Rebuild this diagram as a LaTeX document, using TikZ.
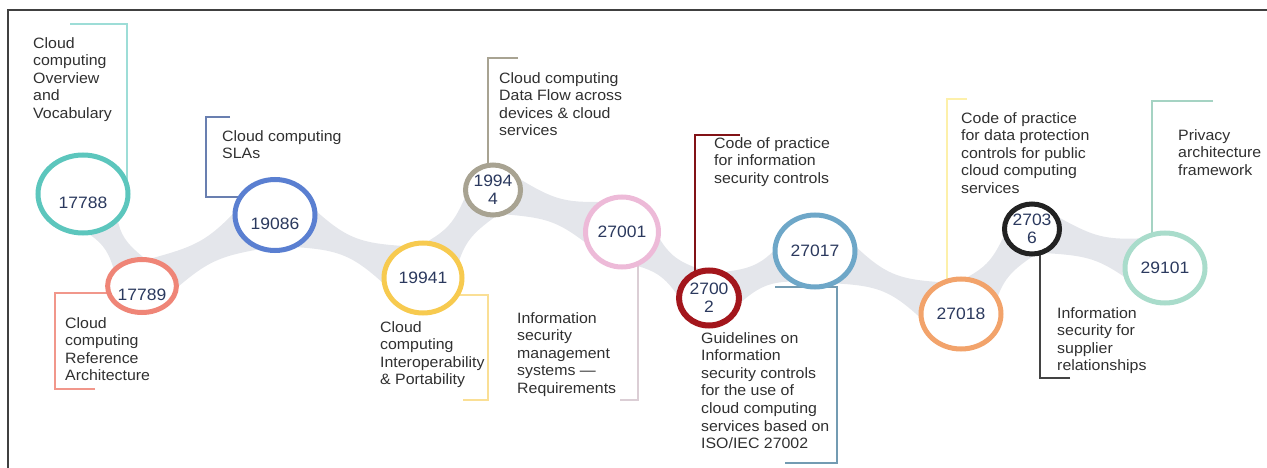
\documentclass[tikz,border=0pt]{standalone}
\usepackage{fontspec}
\setsansfont{Liberation Sans}[FakeStretch=1.06]
\usetikzlibrary{shapes.geometric,calc,backgrounds}

\definecolor{numblue}{HTML}{2B395E}
\definecolor{txtgrey}{HTML}{303030}
\definecolor{bandgrey}{HTML}{E4E6EB}
\definecolor{ringteal}{HTML}{5CC6BD}
\definecolor{ringsalmon}{HTML}{EF8577}
\definecolor{ringblue}{HTML}{5A7FD1}
\definecolor{ringyellow}{HTML}{F7CA4F}
\definecolor{ringtaupe}{HTML}{A8A392}
\definecolor{ringpink}{HTML}{EDBAD8}
\definecolor{ringred}{HTML}{A3161C}
\definecolor{ringsteel}{HTML}{6EA7C8}
\definecolor{ringorange}{HTML}{F2A36B}
\definecolor{ringblack}{HTML}{222222}
\definecolor{ringmint}{HTML}{A9DCCB}

\tikzset{std node/.style={ellipse,draw,line width=5pt,fill=white,inner sep=0pt,align=center,
    text=numblue,font=\sffamily\fontsize{16.5}{18}\selectfont},
  sunk/.style={text height=30pt},
  note/.style={anchor=north west,inner sep=0pt,align=left,text=txtgrey,
    font=\sffamily\fontsize{15}{17.6}\selectfont},
  tick/.style={line width=1.4pt},
  band/.style={fill=bandgrey}}

\begin{document}
\begin{tikzpicture}[x=1pt,y=-1pt]
\useasboundingbox (0,0) rectangle (1267,468);
\draw[line width=2pt,black!75] (8,468) -- (8,10) -- (1267,10);

% the rings
\node[std node,sunk,draw=ringteal,minimum width=90pt,minimum height=78pt] (c17788) at (83,194) {17788};
\node[std node,sunk,draw=ringsalmon,minimum width=60pt,minimum height=53pt] (c17789) at (142,286) {17789};
\node[std node,sunk,draw=ringblue,minimum width=80pt,minimum height=71pt] (c19086) at (275,215) {19086};
\node[std node,draw=ringyellow,minimum width=78pt,minimum height=70pt] (c19941) at (423,278) {19941};
\node[std node,draw=ringtaupe,minimum width=54pt,minimum height=50pt] (c19944) at (493,190) {1994\\4};
\node[std node,draw=ringpink,minimum width=73pt,minimum height=70pt] (c27001) at (622,232) {27001};
\node[std node,draw=ringred,line width=6pt,minimum width=60pt,minimum height=55pt] (c27002) at (709,298) {2700\\2};
\node[std node,draw=ringsteel,minimum width=80pt,minimum height=72pt] (c27017) at (815,251) {27017};
\node[std node,draw=ringorange,minimum width=80pt,minimum height=70pt] (c27018) at (961,314) {27018};
\node[std node,draw=ringblack,minimum width=54pt,minimum height=50pt] (c27036) at (1032,229) {2703\\6};
\node[std node,draw=ringmint,minimum width=80pt,minimum height=70pt] (c29101) at (1165,268) {29101};

% descriptions
\node[note] (d17788) at (33,37) {Cloud\\computing\\Overview\\and\\Vocabulary};
\node[note] (d19086) at (222,130) {Cloud computing\\SLAs};
\node[note] (d17789) at (65,317) {Cloud\\computing\\Reference\\Architecture};
\node[note] (d19944) at (499,72) {Cloud computing\\Data Flow across\\devices \& cloud\\services};
\node[note] (d19941) at (380,321) {Cloud\\computing\\Interoperability\\\& Portability};
\node[note] (d27001) at (517,312) {Information\\security\\management\\systems —\\Requirements};
\node[note] (d27002) at (714,137) {Code of practice\\for information\\security controls};
\node[note] (d27017) at (701,332) {Guidelines on\\Information\\security controls\\for the use of\\cloud computing\\services based on\\ISO/IEC 27002};
\node[note] (d27018) at (961,112) {Code of practice\\for data protection\\controls for public\\cloud computing\\services};
\node[note] (d27036) at (1057,307) {Information\\security for\\supplier\\relationships};
\node[note] (d29101) at (1178,129) {Privacy\\architecture\\framework};

\begin{pgfonlayer}{background}
  % grey ribbon between neighbouring rings
  \foreach \a/\b/\ra/\rb in {c17788/c17789/37/25, c17789/c19086/25/33, c19086/c19941/33/33,
      c19941/c19944/33/24, c19944/c27001/24/33, c27001/c27002/33/26, c27002/c27017/26/34,
      c27017/c27018/34/33, c27018/c27036/33/24, c27036/c29101/24/33}{
    \coordinate (mid) at ($(\a)!0.5!(\b)$);
    \pgfmathsetmacro\cc{36-(\ra+\rb)/2}
    \fill[band] ($(\a)!\ra pt!90:(\b)$) .. controls ($(mid)!\cc pt!90:(\b)$) .. ($(\b)!\rb pt!-90:(\a)$)
      -- ($(\b)!\rb pt!90:(\a)$) .. controls ($(mid)!\cc pt!-90:(\b)$) .. ($(\a)!\ra pt!-90:(\b)$) -- cycle;
  }

  % brackets
  \coordinate (s1) at (70,24);
  \coordinate (s2) at (230,117);  \coordinate (k2) at (206,197);
  \coordinate (s3) at (95,389);   \coordinate (k3) at (55,293);
  \coordinate (s4) at (518,58);
  \coordinate (s5) at (463,400);  \coordinate (k5) at (488,295);
  \coordinate (s6) at (620,400);
  \coordinate (s7) at (740,135);
  \coordinate (s8) at (785,463);  \coordinate (k8) at (837,287);
  \coordinate (s9) at (967,99);
  \coordinate (s10) at (1070,378);
  \coordinate (s11) at (1213,101);

  \draw[tick,ringteal!60] (s1) -| ([xshift=44pt]c17788.center);
  \draw[tick,ringblue!60!gray] (s2) -| (k2) -- ([yshift=18pt]c19086.center);
  \draw[tick,ringsalmon!85] (s3) -| (k3) -- ([yshift=-7pt]c17789.center);
  \draw[tick,ringtaupe] (s4) -| ([xshift=-5pt]c19944.center);
  \draw[tick,ringyellow!60] (s5) -| (k5) -- ([yshift=-17pt]c19941.center);
  \draw[tick,ringpink!50!gray!50] (s6) -| ([xshift=16pt]c27001.center);
  \draw[tick,ringred!80!black] (s7) -| ([xshift=-14pt]c27002.center);
  \draw[tick,ringsteel!70!gray] (s8) -| (k8) -- ([shift={(-40pt,-36pt)}]c27017.center);
  \draw[tick,ringorange!40!yellow!40] (s9) -| ([xshift=-14pt]c27018.center);
  \draw[tick,ringblack!85] (s10) -| ([xshift=8pt]c27036.center);
  \draw[tick,ringmint!90!gray] (s11) -| ([xshift=-13pt]c29101.center);
\end{pgfonlayer}
\end{tikzpicture}
\end{document}
